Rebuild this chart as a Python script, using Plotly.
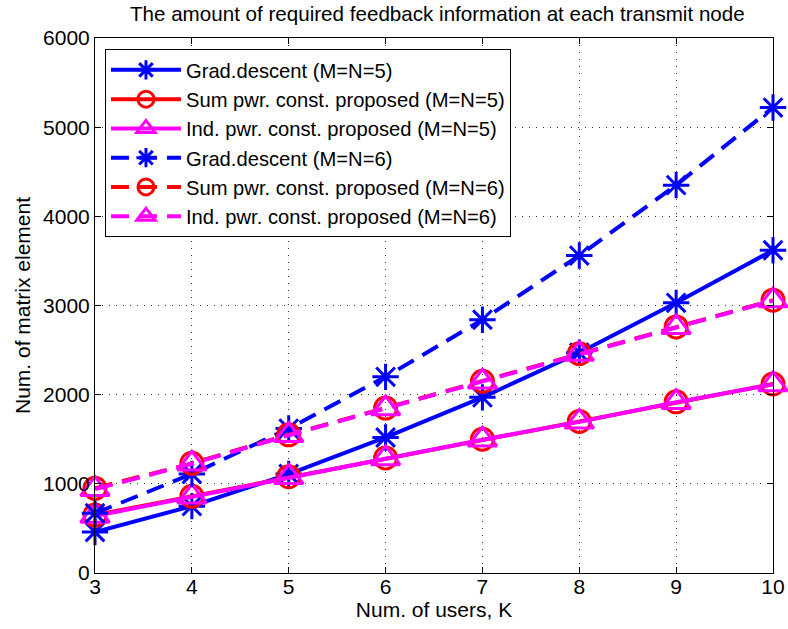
import plotly.graph_objects as go

# ── Data ──────────────────────────────────────────────────────────────────────
users_k = [3, 4, 5, 6, 7, 8, 9, 10]

grad_5 = [460, 750, 1110, 1520, 1970, 2470, 3030, 3620]
sum_pwr_5 = [650, 860, 1080, 1290, 1500, 1700, 1920, 2120]
ind_pwr_5 = [640, 855, 1075, 1285, 1495, 1695, 1915, 2115]

grad_6 = [670, 1110, 1620, 2200, 2840, 3560, 4350, 5220]
sum_pwr_6 = [950, 1230, 1550, 1850, 2150, 2460, 2760, 3060]
ind_pwr_6 = [940, 1225, 1545, 1845, 2145, 2455, 2755, 3055]

y_ticks = [0, 1000, 2000, 3000, 4000, 5000, 6000]

FONT = "Liberation Sans, Arial, sans-serif"
BLUE, RED, MAGENTA = "#0000ff", "#ff0000", "#ff00ff"

series = [
    ("Grad.descent (M=N=5)", grad_5, BLUE, "solid", "asterisk-open", 22),
    ("Sum pwr. const. proposed (M=N=5)", sum_pwr_5, RED, "solid", "circle-open", 22),
    ("Ind. pwr. const. proposed (M=N=5)", ind_pwr_5, MAGENTA, "solid", "triangle-up-open", 25),
    ("Grad.descent (M=N=6)", grad_6, BLUE, "18px,10px", "asterisk-open", 22),
    ("Sum pwr. const. proposed (M=N=6)", sum_pwr_6, RED, "18px,10px", "circle-open", 22),
    ("Ind. pwr. const. proposed (M=N=6)", ind_pwr_6, MAGENTA, "18px,10px", "triangle-up-open", 25),
]

fig = go.Figure()
for name, ys, color, dash, symbol, size in series:
    fig.add_trace(
        go.Scatter(
            x=users_k,
            y=ys,
            name=name,
            mode="lines+markers",
            line=dict(color=color, width=4, dash=dash),
            marker=dict(
                symbol=symbol,
                size=size,
                color=color,
                line=dict(color=color, width=3),
            ),
            cliponaxis=False,
        )
    )

axis_common = dict(
    automargin=False,
    showline=True,
    linecolor="black",
    linewidth=1,
    mirror="ticks",
    ticks="inside",
    ticklen=6,
    tickcolor="black",
    showgrid=True,
    gridcolor="#333333",
    griddash="1px,6px",
    gridwidth=1,
    zeroline=False,
    tickfont=dict(family=FONT, size=21, color="black"),
)

fig.update_layout(
    width=788,
    height=629,
    paper_bgcolor="white",
    plot_bgcolor="white",
    margin=dict(l=95, r=15, t=38, b=56),
    title=dict(
        text="The amount of required feedback information at each transmit node",
        x=0.555,
        xanchor="center",
        y=0.978,
        yanchor="middle",
        font=dict(family=FONT, size=20.6, color="black"),
    ),
    xaxis=dict(
        axis_common,
        range=[3, 10],
        dtick=1,
        ticklabelstandoff=-5,
        title=dict(text="Num. of users, K", standoff=0,
                   font=dict(family=FONT, size=21, color="black")),
    ),
    yaxis=dict(
        axis_common,
        range=[0, 6000],
        tickvals=y_ticks,
        title=dict(text="Num. of matrix element", standoff=6,
                   font=dict(family=FONT, size=21, color="black")),
    ),
    legend=dict(
        x=0.0147,
        y=0.979,
        xanchor="left",
        yanchor="top",
        bgcolor="white",
        bordercolor="black",
        borderwidth=1,
        itemwidth=70,
        tracegroupgap=0,
        font=dict(family=FONT, size=20.2, color="black"),
    ),
    showlegend=True,
)

# drop the default 8px page margin so the figure sits at the window corner
fig.write_html(
    "out.html",
    config={"displayModeBar": False},
    post_script="document.body.style.margin='0';",
)
